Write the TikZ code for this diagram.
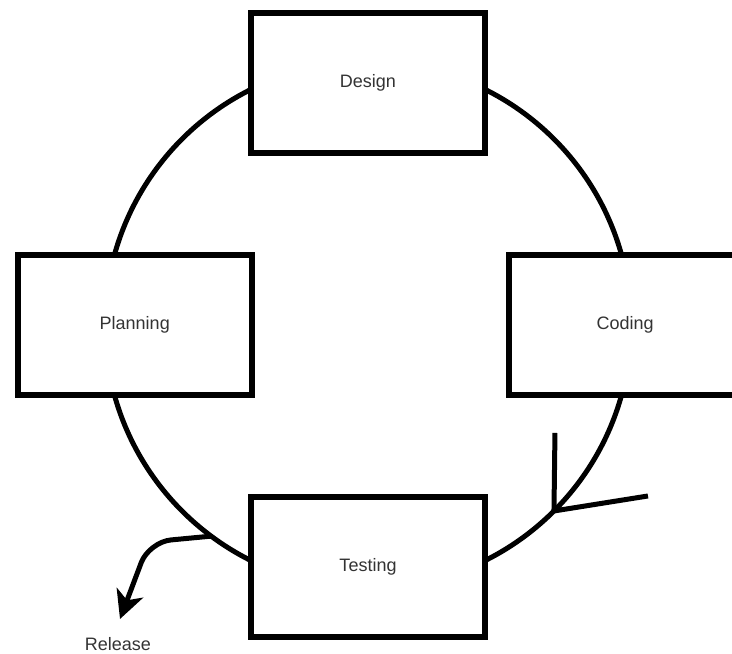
\documentclass[tikz,border=0pt]{standalone}
\usepackage{fontspec}
\setmainfont{Liberation Sans}
\usetikzlibrary{arrows.meta}

\begin{document}
\begin{tikzpicture}[x=1pt,y=-1pt]
                        \tikzstyle{phase}=[draw, line width=6pt, fill=white, minimum width=233.5pt, minimum height=140pt, text=black!80, font=\fontsize{18}{22}\selectfont]
                        \tikzstyle{loop}=[line width=5pt]
                        \useasboundingbox (0,0) rectangle (732,654);
                        \clip (0,0) rectangle (732,654);
                        \coordinate (c) at (368,325);
                        \draw[loop] (c) circle (263);
                        \node[phase] (design) at (368,83) {Design};
                        \node[phase] (planning) at (134.75,325) {Planning};
                        \node[phase] (coding) at (625.25,325) {Coding};
                        \node[phase] (testing) at (368,566.5) {Testing};
                        \coordinate (turn) at ([shift={(c)}]45:263);
                        \draw[loop] (turn) -- ++(1,-78);
                        \draw[loop] (turn) -- ++(94,-15);
                        \coordinate (out) at ([shift={(c)}]126.6:263);
                        \node[text=black!80, font=\fontsize{18}{22}\selectfont] (release) at (118,644) {Release};
                        \draw[loop, rounded corners=22pt, -{Stealth[length=28pt, width=28pt, inset=8pt]}] (out) -- (149,542) -- (120,619);
                    \end{tikzpicture}
\end{document}
